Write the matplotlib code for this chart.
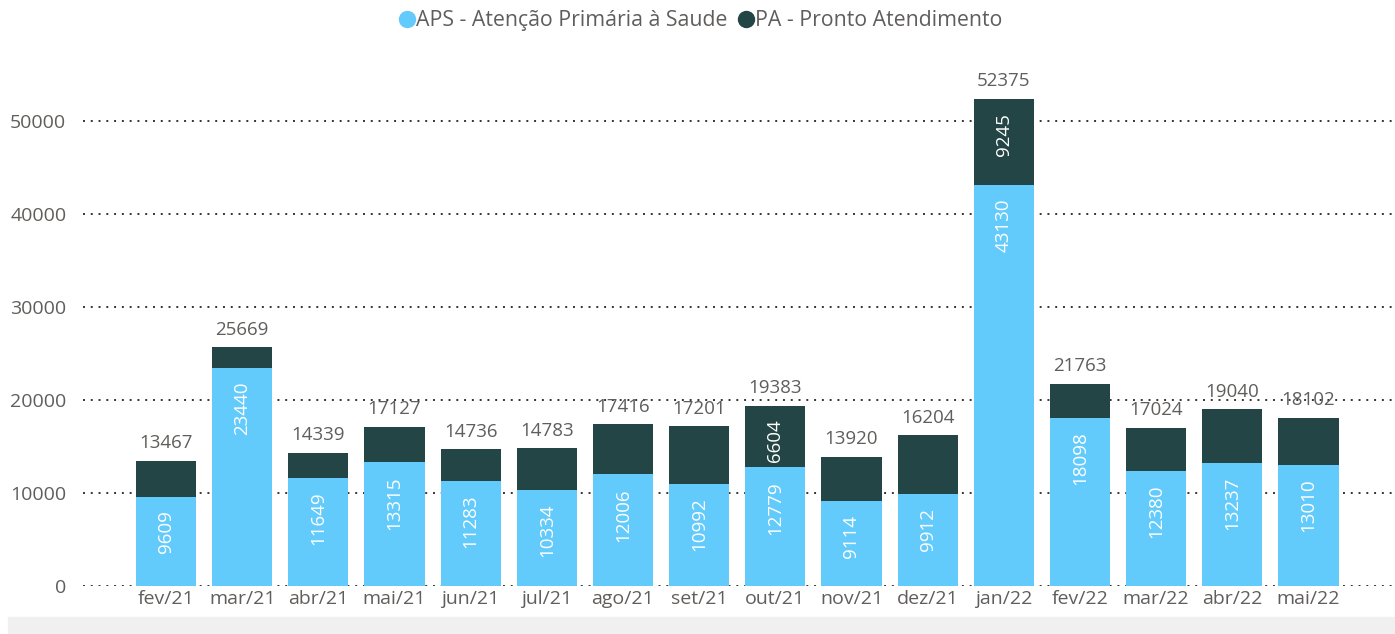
import matplotlib.pyplot as plt
import matplotlib.patches as mpatches
from matplotlib.lines import Line2D
import numpy as np

# ---------------------------------------------------------------------------
# Data
# ---------------------------------------------------------------------------
months = ["fev/21", "mar/21", "abr/21", "mai/21", "jun/21", "jul/21", "ago/21", "set/21",
          "out/21", "nov/21", "dez/21", "jan/22", "fev/22", "mar/22", "abr/22", "mai/22"]
aps = [9609, 23440, 11649, 13315, 11283, 10334, 12006, 10992,
       12779, 9114, 9912, 43130, 18098, 12380, 13237, 13010]
pa = [3858, 2229, 2690, 3812, 3453, 4449, 5410, 6209,
      6604, 4806, 6292, 9245, 3665, 4644, 5803, 5092]
totals = [13467, 25669, 14339, 17127, 14736, 14783, 17416, 17201,
          19383, 13920, 16204, 52375, 21763, 17024, 19040, 18102]
pa_labelled = ["out/21", "jan/22"]   # only these PA segments show a value

APS_COLOR = "#62CBFB"
PA_COLOR = "#234545"
TEXT_COLOR = "#605E5C"

plt.rcParams["font.family"] = ["Open Sans", "DejaVu Sans"]

fig = plt.figure(figsize=(13.95, 6.34), dpi=100)
ax = fig.add_axes([0.0595, 0.0757, 0.9385, 0.829])

x = np.arange(len(months))
w = 0.79

# dotted horizontal grid
for yv in range(0, 60000, 10000):
    ax.axhline(yv, color="#333333", linewidth=1.4, linestyle=(0, (1, 3)), zorder=1)

ax.bar(x, aps, w, color=APS_COLOR, zorder=2)
ax.bar(x, pa, w, bottom=aps, color=PA_COLOR, zorder=2)

# labels: inside end of each segment, total above the bar
for i, m in enumerate(months):
    ax.annotate(f"{aps[i]}", (x[i], aps[i]), xytext=(0, -10), textcoords="offset points",
                rotation=90, ha="center", va="top", color="white", fontsize=13.5, zorder=3)
    if m in pa_labelled:
        ax.annotate(f"{pa[i]}", (x[i], totals[i]), xytext=(0, -10), textcoords="offset points",
                    rotation=90, ha="center", va="top", color="white", fontsize=13.5, zorder=3)
    ax.annotate(f"{totals[i]}", (x[i], totals[i]), xytext=(0, 6), textcoords="offset points",
                ha="center", va="bottom", color=TEXT_COLOR, fontsize=13.5, zorder=3)

ax.set_xlim(-1.09, 16.1)
ax.set_ylim(0, 56500)
ax.set_xticks(x)
ax.set_xticklabels(months)
ax.set_yticks(range(0, 60000, 10000))
ax.tick_params(axis="both", length=0, labelsize=14, colors=TEXT_COLOR)
ax.tick_params(axis="y", pad=12)
ax.tick_params(axis="x", pad=3)
for s in ax.spines.values():
    s.set_visible(False)

# legend at top
handles = [
    Line2D([], [], marker="o", linestyle="none", markersize=11.5, color=APS_COLOR,
           label="APS - Atenção Primária à Saude"),
    Line2D([], [], marker="o", linestyle="none", markersize=11.5, color=PA_COLOR,
           label="PA - Pronto Atendimento"),
]
fig.legend(handles=handles, loc="center", bbox_to_anchor=(0.502, 0.967), ncol=2,
           frameon=False, fontsize=15.3, labelcolor=TEXT_COLOR, handletextpad=0.05,
           columnspacing=0.45, handlelength=0.8)

# light gray band at the bottom
fig.patches.append(mpatches.Rectangle((0.006, 0.0), 0.994, 0.027, transform=fig.transFigure,
                                      color="#F0F0F0", zorder=0))

plt.savefig("out.png", dpi=100)
